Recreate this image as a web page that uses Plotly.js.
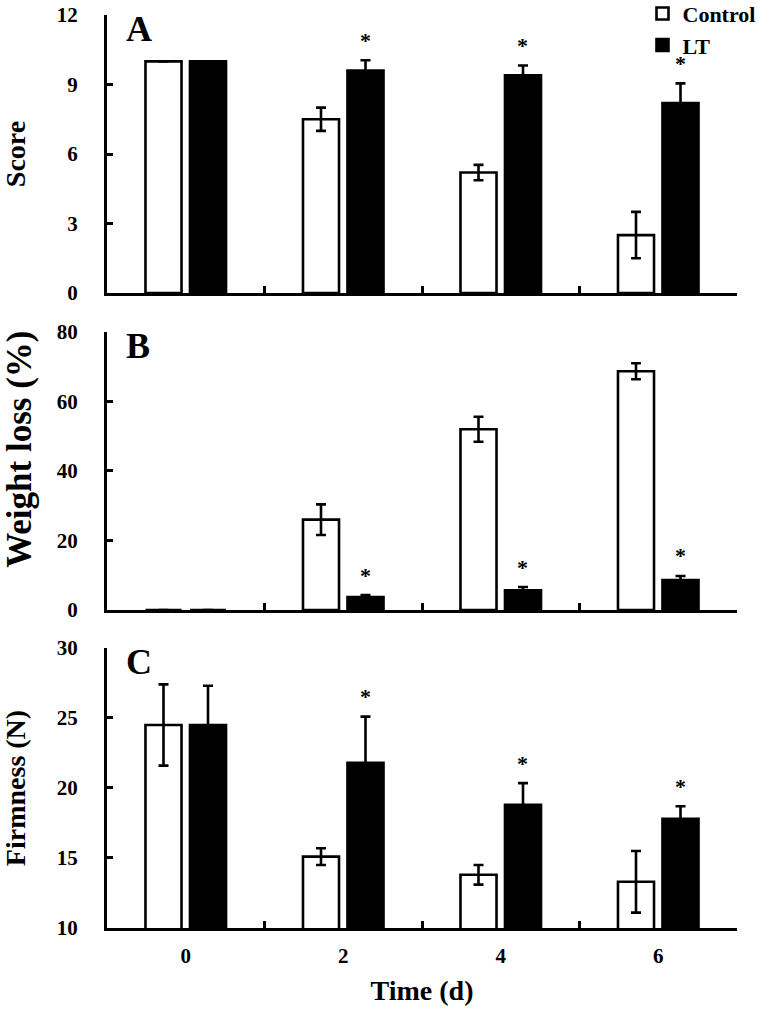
<!DOCTYPE html>
<html>
<head>
<meta charset="utf-8">
<script src="https://cdn.plot.ly/plotly-3.0.1.min.js"></script>
<style>html,body{margin:0;padding:0;background:#fff;}#chart{width:758px;height:1012px;}</style>
</head>
<body>
<div id="chart"></div>
<script>
// ---- data ----
const days = ['0', '2', '4', '6'];

const scoreControl = [10, 7.5, 5.2, 2.5];
const scoreControlErr = [0, 0.5, 0.33, 1.0];
const scoreLT = [10, 9.6, 9.4, 8.2];
const scoreLTErr = [0, 0.45, 0.42, 0.85];

const weightControl = [0, 26, 52, 68.7];
const weightControlErr = [0, 4.4, 3.6, 2.3];
const weightLT = [0, 3.7, 5.7, 8.6];
const weightLTErr = [0, 0.6, 0.9, 1.2];

const firmControl = [24.5, 15.1, 13.8, 13.3];
const firmControlErr = [2.9, 0.6, 0.7, 2.2];
const firmLT = [24.5, 21.8, 18.8, 17.8];
const firmLTErr = [2.8, 3.3, 1.55, 0.9];

// significance marks (1 = marked with *)
const scoreSig = [0, 1, 1, 1];
const weightSig = [0, 1, 1, 1];
const firmSig = [0, 1, 1, 1];

const panelLetters = ['A', 'B', 'C'];
const yTitles = ['Score', '&nbsp;&nbsp;&nbsp;&nbsp;&nbsp;Weight loss (%)', 'Firmness (N)'];
const yTitleSizes = [28, 35, 28];
const xTitle = 'Time (d)';
const seriesNames = ['Control', 'LT'];

// ---- build ----
const FONT = 'Liberation Serif, Times New Roman, serif';
const panels = [
  {c: scoreControl, ce: scoreControlErr, l: scoreLT, le: scoreLTErr, sig: scoreSig, range: [0, 12], dtick: 3},
  {c: weightControl, ce: weightControlErr, l: weightLT, le: weightLTErr, sig: weightSig, range: [0, 80], dtick: 20},
  {c: firmControl, ce: firmControlErr, l: firmLT, le: firmLTErr, sig: firmSig, range: [10, 30], dtick: 5}
];

function nz(arr){ return arr.map(v => v === 0 ? null : v); }

const traces = [];
const annotations = [];
const layout = {
  width: 758, height: 1012,
  margin: {l: 107, r: 21, t: 15, b: 84, autoexpand: false},
  paper_bgcolor: '#fff', plot_bgcolor: '#fff',
  barmode: 'group', bargap: 0.435, bargroupgap: 0.19,
  font: {family: FONT, color: '#000', size: 21, weight: 'bold'},
  showlegend: true,
  legend: {x: 0.85, xanchor: 'left', y: 1.0245, yanchor: 'top', bgcolor: 'rgba(0,0,0,0)',
           font: {family: FONT, size: 22, color: '#000', weight: 'bold'}, tracegroupgap: 0,
           itemwidth: 30},
  annotations: annotations
};

const domains = [[0.6955, 1.0], [0.3483, 0.6528], [0.0, 0.3067]];

panels.forEach((p, i) => {
  const xa = i === 0 ? 'x' : 'x' + (i + 1);
  const ya = i === 0 ? 'y' : 'y' + (i + 1);
  const xk = i === 0 ? 'xaxis' : 'xaxis' + (i + 1);
  const yk = i === 0 ? 'yaxis' : 'yaxis' + (i + 1);
  traces.push({
    type: 'bar', x: days, y: p.c, name: seriesNames[0], xaxis: xa, yaxis: ya,
    marker: {color: '#fff', line: {color: '#000', width: 2.6}},
    error_y: {type: 'data', array: nz(p.ce), visible: true, color: '#000', thickness: 2.6, width: 5},
    showlegend: i === 0, legendgroup: 'c', hoverinfo: 'skip'
  });
  traces.push({
    type: 'bar', x: days, y: p.l, name: seriesNames[1], xaxis: xa, yaxis: ya,
    marker: {color: '#000', line: {color: '#000', width: 2.6}},
    error_y: {type: 'data', array: nz(p.le), visible: true, color: '#000', thickness: 2.6, width: 5},
    showlegend: i === 0, legendgroup: 'l', hoverinfo: 'skip'
  });
  layout[xk] = {
    type: 'category', anchor: ya, domain: [0, 1], range: [-0.5, 3.5],
    showline: true, linecolor: '#000', linewidth: 3,
    ticks: 'inside', tickson: 'boundaries', ticklen: 7, tickwidth: 3, tickcolor: '#000',
    showgrid: false, zeroline: false, showticklabels: i === 2,
    tickfont: {family: FONT, size: 21, color: '#000', weight: 'bold'},
    ticklabelstandoff: 7,
    title: i === 2 ? {text: xTitle, font: {family: FONT, size: 28, color: '#000', weight: 'bold'}, standoff: 14} : {text: ''}
  };
  if (i > 0) layout[xk].matches = 'x';
  layout[yk] = {
    anchor: xa, domain: domains[i], range: p.range, dtick: p.dtick, tick0: p.range[0],
    showline: true, linecolor: '#000', linewidth: 3,
    ticks: 'inside', ticklen: 6, tickwidth: 3, tickcolor: '#000',
    showgrid: false, zeroline: false,
    tickfont: {family: FONT, size: 21, color: '#000', weight: 'bold'},
    ticklabelstandoff: 22,
    title: {text: yTitles[i], font: {family: FONT, size: yTitleSizes[i], color: '#000', weight: 'bold'},
            standoff: i === 1 ? 22 : 30}
  };
  annotations.push({
    text: panelLetters[i], xref: xa + ' domain', yref: ya + ' domain', x: 0.027, y: 1.0,
    xanchor: 'left', yanchor: 'top', yshift: 8, showarrow: false,
    font: {family: FONT, size: 36, color: '#000', weight: 'bold'}
  });
  p.sig.forEach((s, k) => {
    if (!s) return;
    annotations.push({
      text: '*', xref: xa, yref: ya, x: k, y: p.l[k] + p.le[k],
      xshift: 22, yshift: 20, yanchor: 'middle', xanchor: 'center', showarrow: false,
      font: {family: FONT, size: 22, color: '#000', weight: 'bold'}
    });
  });
});

Plotly.newPlot('chart', traces, layout, {staticPlot: true, displayModeBar: false});
</script>
</body>
</html>
